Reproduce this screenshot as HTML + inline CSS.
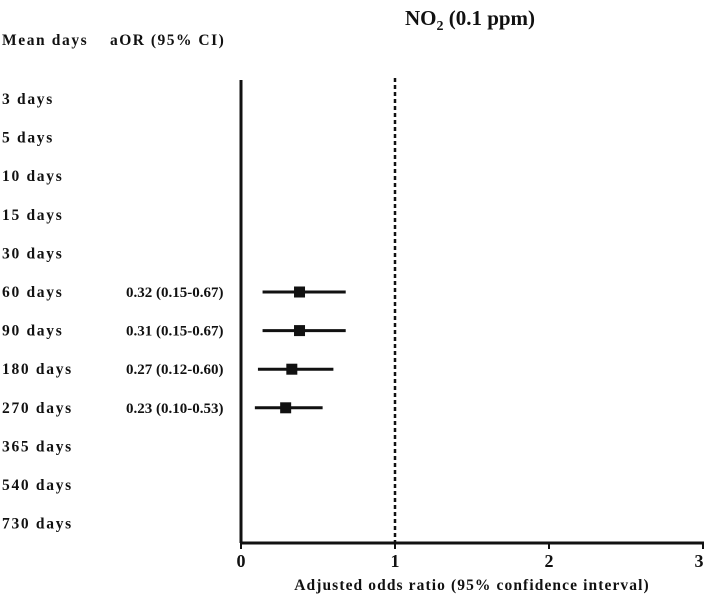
<!DOCTYPE html>
<html><head><meta charset="utf-8"><style>
body{margin:0;background:#fff;width:708px;height:598px;overflow:hidden}
svg text{font-family:"Liberation Serif",serif;font-weight:bold;fill:#111}
</style></head><body>
<svg id="c" width="708" height="598" xmlns="http://www.w3.org/2000/svg">
<text x="470" y="25" font-size="21" text-anchor="middle">NO<tspan font-size="14" dy="5">2</tspan><tspan dy="-5"> (0.1 ppm)</tspan></text>
<text x="2" y="45" font-size="15.5" letter-spacing="1.6">Mean days</text>
<text x="110" y="45" font-size="15.5" letter-spacing="1.5">aOR (95% CI)</text>
<line x1="241" y1="80" x2="241" y2="543" stroke="#111" stroke-width="3"/>
<line x1="240" y1="543" x2="704" y2="543" stroke="#111" stroke-width="3"/>
<text x="472" y="590" font-size="15.5" letter-spacing="1.1" text-anchor="middle">Adjusted odds ratio (95% confidence interval)</text>
<g id="g"></g>
</svg>
<script>
const categories=["3 days","5 days","10 days","15 days","30 days","60 days","90 days","180 days","270 days","365 days","540 days","730 days"];
const estimates=[null,null,null,null,null,0.38,0.38,0.33,0.29,null,null,null];
const lowers=[null,null,null,null,null,0.14,0.14,0.11,0.09,null,null,null];
const uppers=[null,null,null,null,null,0.68,0.68,0.60,0.53,null,null,null];
const aorLabels=["","","","","","0.32 (0.15-0.67)","0.31 (0.15-0.67)","0.27 (0.12-0.60)","0.23 (0.10-0.53)","","",""];
const xTicks=[0,1,2,3];
const refValue=1;
const NS="http://www.w3.org/2000/svg";
const g=document.getElementById('g');
const X=v=>241+v*154;
const Y=i=>99+i*38.6;
function mk(t,a){const e=document.createElementNS(NS,t);for(const k in a)e.setAttribute(k,a[k]);g.appendChild(e);return e;}
let r=mk('line',{x1:X(refValue),y1:78,x2:X(refValue),y2:543,stroke:'#111','stroke-width':2.5,'stroke-dasharray':'4 3'});


xTicks.forEach(t=>{
 let l=mk('line',{x1:X(t),y1:543,x2:X(t),y2:549,stroke:'#111','stroke-width':2});
 
 
 let tx=mk('text',{x:X(t)-(t==3?4:0),y:567,'font-size':18,'text-anchor':'middle'});tx.textContent=t;
 
 
});
categories.forEach((c,i)=>{
 let t=mk('text',{x:2,y:Y(i)+5,'font-size':15.5,'letter-spacing':1.7});t.textContent=c;
 
 
 if(aorLabels[i]){let a=mk('text',{x:126,y:Y(i)+5,'font-size':15});a.textContent=aorLabels[i];
  
  }
 if(estimates[i]!=null){
  let w=mk('line',{x1:X(lowers[i]),y1:Y(i),x2:X(uppers[i]),y2:Y(i),stroke:'#111','stroke-width':3});
  
  
  let s=mk('rect',{x:X(estimates[i])-5.5,y:Y(i)-5.5,width:11,height:11,fill:'#111'});
  
  
 }
});
</script>
</body></html>
